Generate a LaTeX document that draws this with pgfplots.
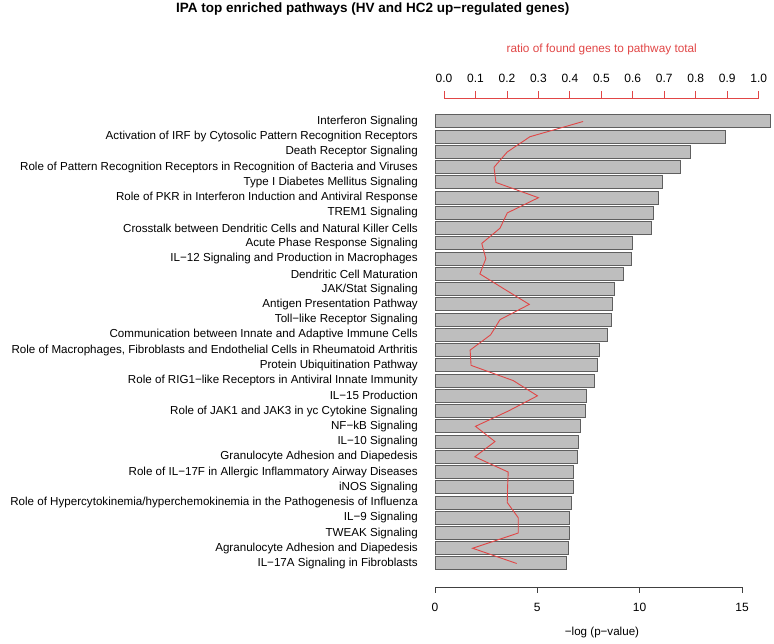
\documentclass[border=0pt]{standalone}
\usepackage{pgfplots}
\pgfplotsset{compat=1.18}
\usepackage{pgfplotstable}
\usepackage{fontspec}
\setmainfont{Liberation Sans}
\definecolor{barfill}{RGB}{190,190,190}
\definecolor{bardraw}{RGB}{95,95,95}
\definecolor{rline}{RGB}{225,70,70}

\pgfplotstableread{
y x r
30 16.40 0.442
29 14.20 0.273
28 12.50 0.201
27 12.00 0.159
26 11.10 0.165
25 10.90 0.300
24 10.70 0.201
23 10.60 0.178
22 9.66 0.120
21 9.60 0.133
20 9.22 0.114
19 8.78 0.192
18 8.68 0.271
17 8.60 0.178
16 8.41 0.148
15 8.03 0.083
14 7.95 0.086
13 7.77 0.220
12 7.40 0.297
11 7.33 0.204
10 7.09 0.100
9 6.99 0.162
8 6.94 0.098
7 6.75 0.204
6 6.75 0.202
5 6.65 0.201
4 6.55 0.236
3 6.55 0.236
2 6.53 0.091
1 6.44 0.231
}\datatable

\begin{document}
\begin{tikzpicture}
\useasboundingbox (0,0) rectangle (774bp,644bp);
\begin{axis}[
  at={(435bp,57bp)}, anchor=south west,
  scale only axis, width=307bp, height=489bp,
  xmin=0, xmax=15, ymin=-0.542, ymax=31.542,
  clip=false,
  axis x line=bottom, axis y line=left,
  axis line style={-, black!75, line width=0.8bp},
  y axis line style={draw=none},
  ytick style={draw=none},
  xtick={0,5,10,15},
  tick align=outside, major tick length=6bp,
  xtick style={black!75, line width=0.8bp},
  /pgf/number format/assume math mode=true,
  ticklabel style={font=\fontsize{12bp}{14bp}\selectfont},
  xticklabel style={inner sep=0pt, anchor=center, yshift=-14bp},
  ytick={1,...,30},
  yticklabel style={font=\fontsize{11.6bp}{13bp}\selectfont, anchor=east, inner sep=0pt, xshift=-11bp},
  yticklabels={
    IL−17A Signaling in Fibroblasts,
    Agranulocyte Adhesion and Diapedesis,
    TWEAK Signaling,
    IL−9 Signaling,
    Role of Hypercytokinemia/hyperchemokinemia in the Pathogenesis of Influenza,
    iNOS Signaling,
    Role of IL−17F in Allergic Inflammatory Airway Diseases,
    Granulocyte Adhesion and Diapedesis,
    IL−10 Signaling,
    NF−kB Signaling,
    Role of JAK1 and JAK3 in yc Cytokine Signaling,
    IL−15 Production,
    Role of RIG1−like Receptors in Antiviral Innate Immunity,
    Protein Ubiquitination Pathway,
    {Role of Macrophages, Fibroblasts and Endothelial Cells in Rheumatoid Arthritis},
    Communication between Innate and Adaptive Immune Cells,
    Toll−like Receptor Signaling,
    Antigen Presentation Pathway,
    JAK/Stat Signaling,
    Dendritic Cell Maturation,
    IL−12 Signaling and Production in Macrophages,
    Acute Phase Response Signaling,
    Crosstalk between Dendritic Cells and Natural Killer Cells,
    TREM1 Signaling,
    Role of PKR in Interferon Induction and Antiviral Response,
    Type I Diabetes Mellitus Signaling,
    Role of Pattern Recognition Receptors in Recognition of Bacteria and Viruses,
    Death Receptor Signaling,
    Activation of IRF by Cytosolic Pattern Recognition Receptors,
    Interferon Signaling},
]
\addplot[xbar, bar width=13bp, fill=barfill, draw=bardraw, line width=1bp] table[x=x, y=y] {\datatable};
\end{axis}
\begin{axis}[
  at={(444bp,57bp)}, anchor=south west,
  scale only axis, width=314.7bp, height=489bp,
  xmin=0, xmax=1, ymin=-0.542, ymax=31.542,
  clip=false,
  axis x line=top, axis y line=none,
  axis line style={-, rline, line width=0.8bp},
  xtick={0,0.1,...,1.0},
  tick align=outside, major tick length=7bp,
  xtick style={rline, line width=0.8bp},
  /pgf/number format/assume math mode=true,
  /pgf/number format/fixed, /pgf/number format/fixed zerofill, /pgf/number format/precision=1,
  ticklabel style={font=\fontsize{12bp}{14bp}\selectfont},
  xticklabel style={inner sep=0pt, anchor=center, yshift=13bp},
]
\addplot[rline, line width=0.9bp] table[x=r, y=y] {\datatable};
\end{axis}
\node[anchor=base, inner sep=0pt, font=\bfseries\fontsize{13.5bp}{15bp}\selectfont] at (372.8bp,631bp) {IPA top enriched pathways (HV and HC2 up−regulated genes)};
\node[text=rline, font=\fontsize{11.8bp}{13bp}\selectfont] at (601.7bp,595bp) {ratio of found genes to pathway total};
\node[font=\fontsize{11.6bp}{13bp}\selectfont] at (602bp,11bp) {−log (p−value)};
\end{tikzpicture}
\end{document}
